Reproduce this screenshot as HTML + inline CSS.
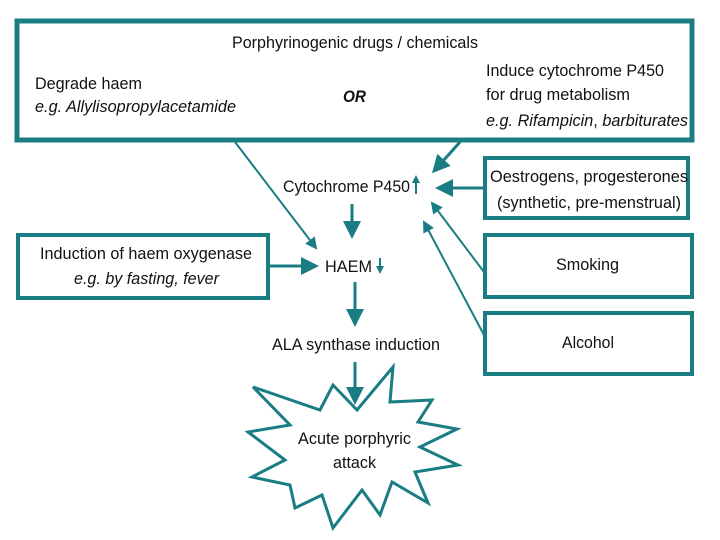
<!DOCTYPE html><html><head><style>body{margin:0;background:#fff}svg{display:block}text{font-family:"Liberation Sans",sans-serif;font-size:17px;fill:#111}</style></head><body>
<svg width="720" height="540" viewBox="0 0 720 540">
<defs><marker id="a" markerWidth="6" markerHeight="6" refX="5" refY="3" orient="auto" markerUnits="strokeWidth"><path d="M0,0L6,3L0,6z" fill="#1a7d84"/></marker>
<marker id="b" markerWidth="4" markerHeight="4" refX="3" refY="2" orient="auto" markerUnits="strokeWidth"><path d="M0,0L4,2L0,4z" fill="#1a7d84"/></marker></defs>
<g fill="none" stroke="#1a7d84">
<rect x="17" y="21" width="675" height="119" stroke-width="5"/>
<rect x="485" y="158" width="203" height="60" stroke-width="4"/>
<rect x="485" y="235" width="207" height="62" stroke-width="4"/>
<rect x="485" y="313" width="207" height="61" stroke-width="4"/>
<rect x="18" y="235" width="250" height="63" stroke-width="4"/>
<g stroke-width="3">
<line x1="235" y1="142" x2="316" y2="248" marker-end="url(#a)" stroke-width="2"/>
<line x1="460" y1="142" x2="434" y2="171" marker-end="url(#a)"/>
<line x1="484" y1="188" x2="438" y2="188" marker-end="url(#a)"/>
<line x1="484" y1="272" x2="432" y2="203" marker-end="url(#a)" stroke-width="2"/>
<line x1="484" y1="335" x2="424" y2="222" marker-end="url(#a)" stroke-width="2"/>
<line x1="352" y1="204" x2="352" y2="236" marker-end="url(#a)"/>
<line x1="269" y1="266" x2="316" y2="266" marker-end="url(#a)"/>
<line x1="355" y1="282" x2="355" y2="324" marker-end="url(#a)"/>
<line x1="355" y1="362" x2="355" y2="402" marker-end="url(#a)"/>
<line x1="416" y1="194" x2="416" y2="177" marker-end="url(#b)" stroke-width="2"/>
<line x1="380" y1="258" x2="380" y2="272" marker-end="url(#b)" stroke-width="2"/>
</g>
<polygon stroke-width="3" points="253,387 320,410 333,385 357,410 393,367 390,402 432,400 418,422 457,429 420,447 458,465 415,472 428,503 392,482 380,515 362,490 333,528 322,495 295,508 290,485 252,477 285,460 248,432 290,425"/>
</g>
<text x="232" y="48" textLength="246" lengthAdjust="spacingAndGlyphs">Porphyrinogenic drugs / chemicals</text>
<text x="35" y="89" textLength="107" lengthAdjust="spacingAndGlyphs">Degrade haem</text>
<text x="35" y="112" font-style="italic" textLength="201" lengthAdjust="spacingAndGlyphs">e.g. Allylisopropylacetamide</text>
<text x="343" y="102" font-style="italic" font-weight="bold" textLength="23" lengthAdjust="spacingAndGlyphs">OR</text>
<text x="486" y="76" textLength="178" lengthAdjust="spacingAndGlyphs">Induce cytochrome P450</text>
<text x="486" y="100" textLength="144" lengthAdjust="spacingAndGlyphs">for drug metabolism</text>
<text x="486" y="126" textLength="202" lengthAdjust="spacingAndGlyphs"><tspan font-style="italic">e.g. Rifampicin</tspan>, <tspan font-style="italic">barbiturates</tspan></text>
<text x="283" y="192" textLength="127" lengthAdjust="spacingAndGlyphs">Cytochrome P450</text>
<text x="490" y="182" textLength="198" lengthAdjust="spacingAndGlyphs">Oestrogens, progesterones</text>
<text x="497" y="208" textLength="184" lengthAdjust="spacingAndGlyphs">(synthetic, pre-menstrual)</text>
<text x="40" y="259" textLength="212" lengthAdjust="spacingAndGlyphs">Induction of haem oxygenase</text>
<text x="74" y="284" font-style="italic" textLength="145" lengthAdjust="spacingAndGlyphs">e.g. by fasting, fever</text>
<text x="325" y="272" textLength="47" lengthAdjust="spacingAndGlyphs">HAEM</text>
<text x="556" y="270" textLength="63" lengthAdjust="spacingAndGlyphs">Smoking</text>
<text x="562" y="348" textLength="52" lengthAdjust="spacingAndGlyphs">Alcohol</text>
<text x="272" y="350" textLength="168" lengthAdjust="spacingAndGlyphs">ALA synthase induction</text>
<text x="298" y="444" textLength="113" lengthAdjust="spacingAndGlyphs">Acute porphyric</text>
<text x="333" y="468" textLength="43" lengthAdjust="spacingAndGlyphs">attack</text>
</svg></body></html>
